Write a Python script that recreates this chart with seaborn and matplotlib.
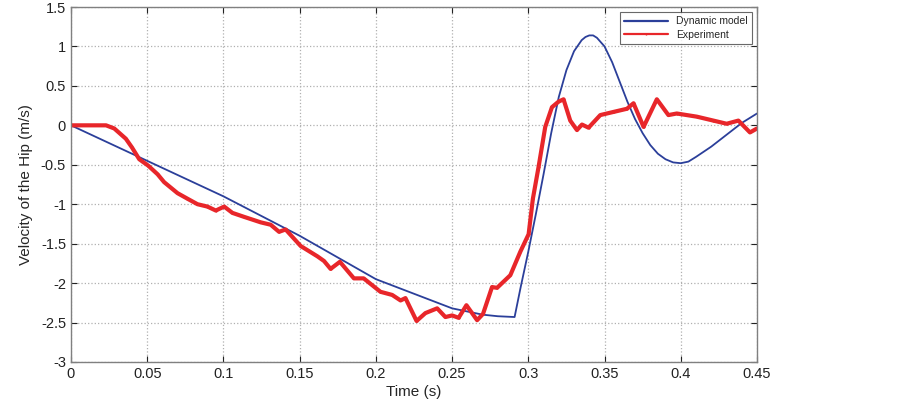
import matplotlib
matplotlib.use("Agg")
import matplotlib.pyplot as plt
import seaborn as sns
import pandas as pd

# Dynamic model
t_model = [0.0, 0.05, 0.1, 0.15, 0.2, 0.25, 0.27, 0.28, 0.291,
           0.295, 0.30, 0.305, 0.31, 0.315, 0.32, 0.325, 0.33, 0.335,
           0.3375, 0.34, 0.3425, 0.345, 0.35, 0.355, 0.36, 0.365, 0.37,
           0.375, 0.38, 0.385, 0.39, 0.395, 0.40, 0.405, 0.41, 0.42,
           0.43, 0.44, 0.45]
v_model = [0.0, -0.45, -0.9, -1.4, -1.95, -2.32, -2.40, -2.42, -2.43,
           -2.05, -1.6, -1.12, -0.62, -0.1, 0.36, 0.70, 0.94, 1.08,
           1.12, 1.14, 1.14, 1.11, 1.0, 0.8, 0.55, 0.3, 0.08,
           -0.1, -0.25, -0.36, -0.43, -0.47, -0.48, -0.46, -0.4, -0.27,
           -0.12, 0.03, 0.15]

# Experiment
t_exp = [0.0, 0.023, 0.0284, 0.036, 0.040, 0.0448, 0.0506, 0.0568, 0.0611,
         0.0699, 0.0764, 0.083, 0.0895, 0.095, 0.1005, 0.1059, 0.1135,
         0.1245, 0.131, 0.1365, 0.1408, 0.1507, 0.1616, 0.166, 0.1703,
         0.1764, 0.1856, 0.192, 0.203, 0.2107, 0.2162, 0.2194, 0.2267,
         0.2325, 0.2402, 0.2456, 0.25, 0.2543, 0.2594, 0.2664, 0.2703,
         0.2762, 0.2795, 0.2882, 0.2948, 0.3002, 0.3030, 0.3067, 0.3111,
         0.3155, 0.3198, 0.3231, 0.3275, 0.3319, 0.3352, 0.3395, 0.3472,
         0.3559, 0.3647, 0.369, 0.3756, 0.3843, 0.3919, 0.3974, 0.4105,
         0.4214, 0.4301, 0.4378, 0.4454, 0.45]
v_exp = [0.0, 0.0, -0.04, -0.17, -0.28, -0.43, -0.51, -0.62, -0.72,
         -0.86, -0.93, -1.0, -1.03, -1.08, -1.03, -1.11, -1.16,
         -1.23, -1.26, -1.35, -1.32, -1.53, -1.66, -1.72, -1.82,
         -1.73, -1.94, -1.94, -2.11, -2.15, -2.22, -2.19, -2.48,
         -2.38, -2.32, -2.43, -2.41, -2.44, -2.28, -2.47, -2.39,
         -2.05, -2.06, -1.90, -1.60, -1.38, -0.93, -0.53, -0.02,
         0.23, 0.30, 0.33, 0.06, -0.06, 0.01, -0.03, 0.13,
         0.17, 0.21, 0.28, -0.02, 0.33, 0.13, 0.15, 0.11,
         0.06, 0.02, 0.06, -0.09, -0.04]

df_model = pd.DataFrame({"t": t_model, "v": v_model})
df_exp = pd.DataFrame({"t": t_exp, "v": v_exp})

sns.set_style("white")
plt.rcParams['font.family'] = ['Liberation Sans', 'DejaVu Sans']

fig = plt.figure(figsize=(9.03, 4.05), dpi=100)
ax = fig.add_axes([0.0786, 0.1062, 0.7597, 0.8765])

sns.lineplot(data=df_model, x="t", y="v", ax=ax, color="#2b3f9a",
             linewidth=1.3, label="Dynamic model", sort=False,
             solid_joinstyle="round")
sns.lineplot(data=df_exp, x="t", y="v", ax=ax, color="#e8262a",
             linewidth=3, marker=".", markersize=3, markeredgewidth=0,
             label="Experiment", sort=False,
             solid_joinstyle="round", solid_capstyle="round")

ax.set_xlim(0, 0.45)
ax.set_ylim(-3, 1.5)
ax.set_xticks([0, 0.05, 0.1, 0.15, 0.2, 0.25, 0.3, 0.35, 0.4, 0.45])
ax.set_xticklabels(["0", "0.05", "0.1", "0.15", "0.2", "0.25", "0.3", "0.35", "0.4", "0.45"])
ax.set_yticks([-3, -2.5, -2, -1.5, -1, -0.5, 0, 0.5, 1, 1.5])
ax.set_yticklabels(["-3", "-2.5", "-2", "-1.5", "-1", "-0.5", "0", "0.5", "1", "1.5"])
ax.grid(True, linestyle=":", color="#b0b0b0", linewidth=0.9)
ax.tick_params(direction="in", length=4, labelsize=10.5, colors="#222222",
               top=True, right=True, bottom=True, left=True)
for s in ax.spines.values():
    s.set_color("#808080")
    s.set_linewidth(1.0)

ax.set_xlabel("Time (s)", fontsize=11, labelpad=3)
ax.set_ylabel("Velocity of the Hip (m/s)", fontsize=11, labelpad=6)

leg = ax.legend(loc="upper right", fontsize=7.5, frameon=True, fancybox=False,
                borderaxespad=0.5, handlelength=4.2, borderpad=0.4, labelspacing=0.3)
leg.get_frame().set_edgecolor("#444444")
leg.get_frame().set_linewidth(0.8)
for line in leg.get_lines():
    line.set_linewidth(1.6)

fig.savefig("out.png", dpi=100)
